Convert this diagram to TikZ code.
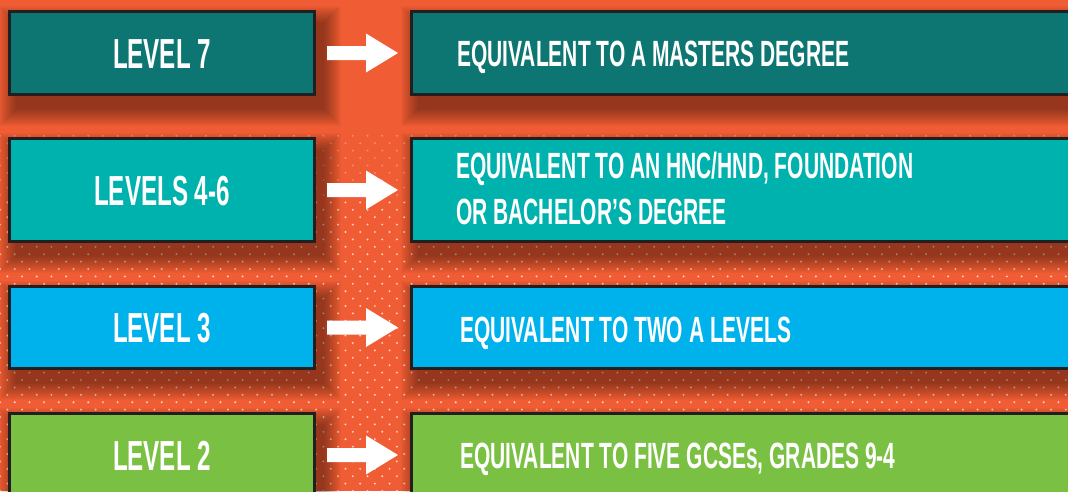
\documentclass[tikz,border=0pt]{standalone}
\usepackage{fontspec}
\newfontfamily\bebas[FakeStretch=0.575]{Liberation Sans}
\usetikzlibrary{calc,patterns}
\definecolor{bg}{HTML}{F05D34}
\definecolor{bord}{HTML}{231F20}
\definecolor{cseven}{HTML}{0E7672}
\definecolor{csix}{HTML}{00B2AD}
\definecolor{cthree}{HTML}{00B2EC}
\definecolor{ctwo}{HTML}{7AC143}
\pgfdeclarelayer{bottom}
\pgfdeclarelayer{shade}
\pgfsetlayers{bottom,shade,main}
\pgfdeclarepatternformonly{hexdots}{\pgfpoint{-1.5pt}{-1.5pt}}{\pgfpoint{9pt}{9pt}}{\pgfpoint{14.7pt}{14.8pt}}{%
  \pgfpathcircle{\pgfpoint{0pt}{0pt}}{1.1pt}%
  \pgfpathcircle{\pgfpoint{7.35pt}{7.4pt}}{1.1pt}%
  \pgfusepath{fill}}
\newcommand\blockarrow[2]{%
  \fill[white] ([xshift=11pt,yshift=7pt]#1.east) -- ([xshift=-44pt,yshift=7pt]#2.west)
    -- ([xshift=-44pt,yshift=19.5pt]#2.west) -- ([xshift=-12pt]#2.west)
    -- ([xshift=-44pt,yshift=-19.5pt]#2.west) -- ([xshift=-44pt,yshift=-7pt]#2.west)
    -- ([xshift=11pt,yshift=-7pt]#1.east) -- cycle;}
% soft shadow: offset (8,13), spread 0..17
\newcommand\boxshadow[1]{%
  \foreach \k in {0,...,17}{%
    \fill[black, opacity=0.022] ([shift={(\k-9,\k-4)}]#1.north west) rectangle ([shift={(25-\k,30-\k)}]#1.south east);}}
\begin{document}
\begin{tikzpicture}[x=1pt,y=-1pt,
  box/.style={draw=bord, line width=3pt, inner sep=0pt},
  lbox/.style={box, minimum width=305pt, text=white,
    font=\bebas\bfseries\fontsize{42}{44}\selectfont, text height=30pt, text depth=0pt},
  rbox/.style={box, minimum width=677pt},
  rtext/.style={anchor=west, inner sep=0pt, text=white, align=left,
    font=\bebas\bfseries\fontsize{36.5}{43}\selectfont, text height=26pt, text depth=0pt}]
\useasboundingbox (0,0) rectangle (1068,491);
\begin{pgfonlayer}{bottom}
\fill[bg] (0,0) rectangle (1068,491);
\fill[pattern=hexdots, pattern color=white, fill opacity=0.3] (0,132) rectangle (1068,198);
\fill[pattern=hexdots, pattern color=white, fill opacity=0.7] (0,198) rectangle (1068,491);
\end{pgfonlayer}
% left boxes
\node[lbox, fill=cseven, minimum height=83pt] (l7) at (162,53) {LEVEL 7};
\node[lbox, fill=csix, minimum height=103pt] (l46) at (162,190) {LEVELS 4-6};
\node[lbox, fill=cthree, minimum height=82pt] (l3) at (162,327.5) {LEVEL 3};
\node[lbox, fill=ctwo, minimum height=83pt] (l2) at (162,455) {LEVEL 2};
% right boxes
\node[rbox, fill=cseven, minimum height=83pt] (r7) at (750,53) {};
\node[rbox, fill=csix, minimum height=103pt] (r46) at (750,190) {};
\node[rbox, fill=cthree, minimum height=82pt] (r3) at (750,327.5) {};
\node[rbox, fill=ctwo, minimum height=83pt] (r2) at (750,455) {};
\begin{pgfonlayer}{shade}
\boxshadow{l7}\boxshadow{l46}\boxshadow{l3}\boxshadow{l2}
\boxshadow{r7}\boxshadow{r46}\boxshadow{r3}\boxshadow{r2}
\end{pgfonlayer}
% texts
\node[rtext] (t7) at ([xshift=47pt]r7.west) {EQUIVALENT TO A MASTERS DEGREE};
\node[rtext] (t46) at ([xshift=46pt,yshift=-21.5pt]r46.west) {EQUIVALENT TO AN HNC/HND, FOUNDATION\\[3pt]OR BACHELOR’S DEGREE};
\node[rtext] (t3) at ([xshift=50pt,yshift=-1.5pt]r3.west) {EQUIVALENT TO TWO A LEVELS};
\node[rtext] (t2) at ([xshift=50pt]r2.west) {EQUIVALENT TO FIVE GCSEs, GRADES 9-4};
% arrows
\blockarrow{l7}{r7}
\blockarrow{l46}{r46}
\blockarrow{l3}{r3}
\blockarrow{l2}{r2}
\end{tikzpicture}
\end{document}
